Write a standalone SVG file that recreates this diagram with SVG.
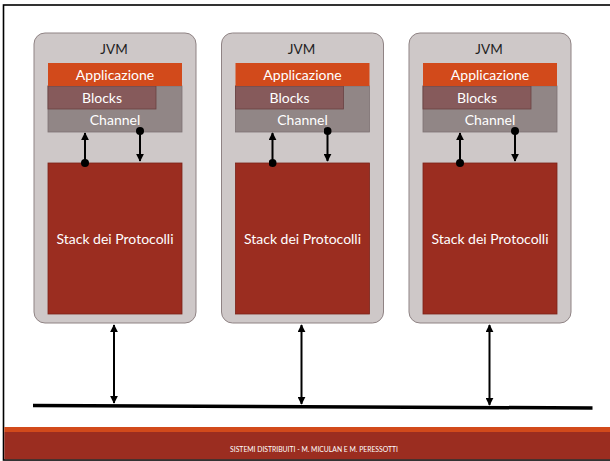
<svg xmlns="http://www.w3.org/2000/svg" width="610" height="461" viewBox="0 0 610 461">
  <defs>
    <style>
      text { font-family: Lato, "Open Sans", "Liberation Sans", sans-serif; }
      .jvm { fill: #cec8c8; stroke: #8f8384; stroke-width: 1; }
      .app { fill: #d24a1b; }
      .chan { fill: #918686; stroke: #7d7273; stroke-width: 0.8; }
      .blk { fill: #865a5b; stroke: #6a4142; stroke-width: 0.8; }
      .stack { fill: #9b2d20; stroke: #7a2217; stroke-width: 0.8; }
      .lbl { fill: #ffffff; font-size: 14px; text-anchor: middle; }
      .title { fill: #222222; font-size: 13.5px; text-anchor: middle; }
      .wire { stroke: #000000; stroke-width: 2; fill: none; }
    </style>
    <marker id="head" viewBox="0 0 10 10" refX="9" refY="5" markerWidth="4" markerHeight="4" orient="auto-start-reverse" markerUnits="strokeWidth">
      <path d="M0,0 L10,5 L0,10 z" fill="#000000"/>
    </marker>
    <marker id="dot" viewBox="0 0 10 10" refX="5" refY="5" markerWidth="4" markerHeight="4" markerUnits="strokeWidth">
      <circle cx="5" cy="5" r="5" fill="#000000"/>
    </marker>
    <!-- one JVM node, positioned with transforms -->
    <g id="jvmTemplate">
      <rect class="jvm" x="34" y="33" width="162" height="290" rx="11"/>
      <text class="title" x="114" y="54">JVM</text>
      <rect class="chan" x="48" y="86" width="134" height="46"/>
      <rect class="blk" x="48" y="86" width="108" height="23"/>
      <rect class="app" x="48" y="63" width="134" height="23"/>
      <text class="lbl" x="115" y="80">Applicazione</text>
      <text class="lbl" x="102" y="103">Blocks</text>
      <text class="lbl" x="115" y="125">Channel</text>
      <rect class="stack" x="48" y="163" width="134" height="151"/>
      <text class="lbl" x="115" y="244">Stack dei Protocolli</text>
      <line class="wire" x1="85" y1="163" x2="85" y2="133" marker-start="url(#dot)" marker-end="url(#head)"/>
      <line class="wire" x1="140" y1="131" x2="140" y2="161" marker-start="url(#dot)" marker-end="url(#head)"/>
    </g>
  </defs>

  <rect x="0" y="0" width="610" height="461" fill="#ffffff"/>

  <!-- slide frame -->
  <rect x="3.5" y="5" width="620" height="455" fill="none" stroke="#000000" stroke-width="1.6"/>

  <!-- footer band -->
  <rect x="4.3" y="427" width="606" height="5" fill="#d24a1b"/>
  <rect x="4.3" y="432" width="606" height="27.2" fill="#9b2d20"/>
  <text x="314" y="452" fill="#ffffff" font-size="6.8px" text-anchor="middle">SISTEMI DISTRIBUITI - M. MICULAN E M. PERESSOTTI</text>

  <!-- JVM nodes -->
  <g id="jvm1"><use href="#jvmTemplate"/></g>
  <g id="jvm2"><use href="#jvmTemplate" transform="translate(187.5,0)"/></g>
  <g id="jvm3"><use href="#jvmTemplate" transform="translate(375,0)"/></g>

  <!-- network bus and links -->
  <g id="connectors">
    <line x1="33" y1="405.5" x2="592.5" y2="408" stroke="#000000" stroke-width="3.5"/>
    <line class="wire" x1="114" y1="325" x2="114" y2="403" marker-start="url(#head)" marker-end="url(#head)"/>
    <line class="wire" x1="301.5" y1="325" x2="301.5" y2="404" marker-start="url(#head)" marker-end="url(#head)"/>
    <line class="wire" x1="489.5" y1="325" x2="489.5" y2="405" marker-start="url(#head)" marker-end="url(#head)"/>
  </g>
</svg>
